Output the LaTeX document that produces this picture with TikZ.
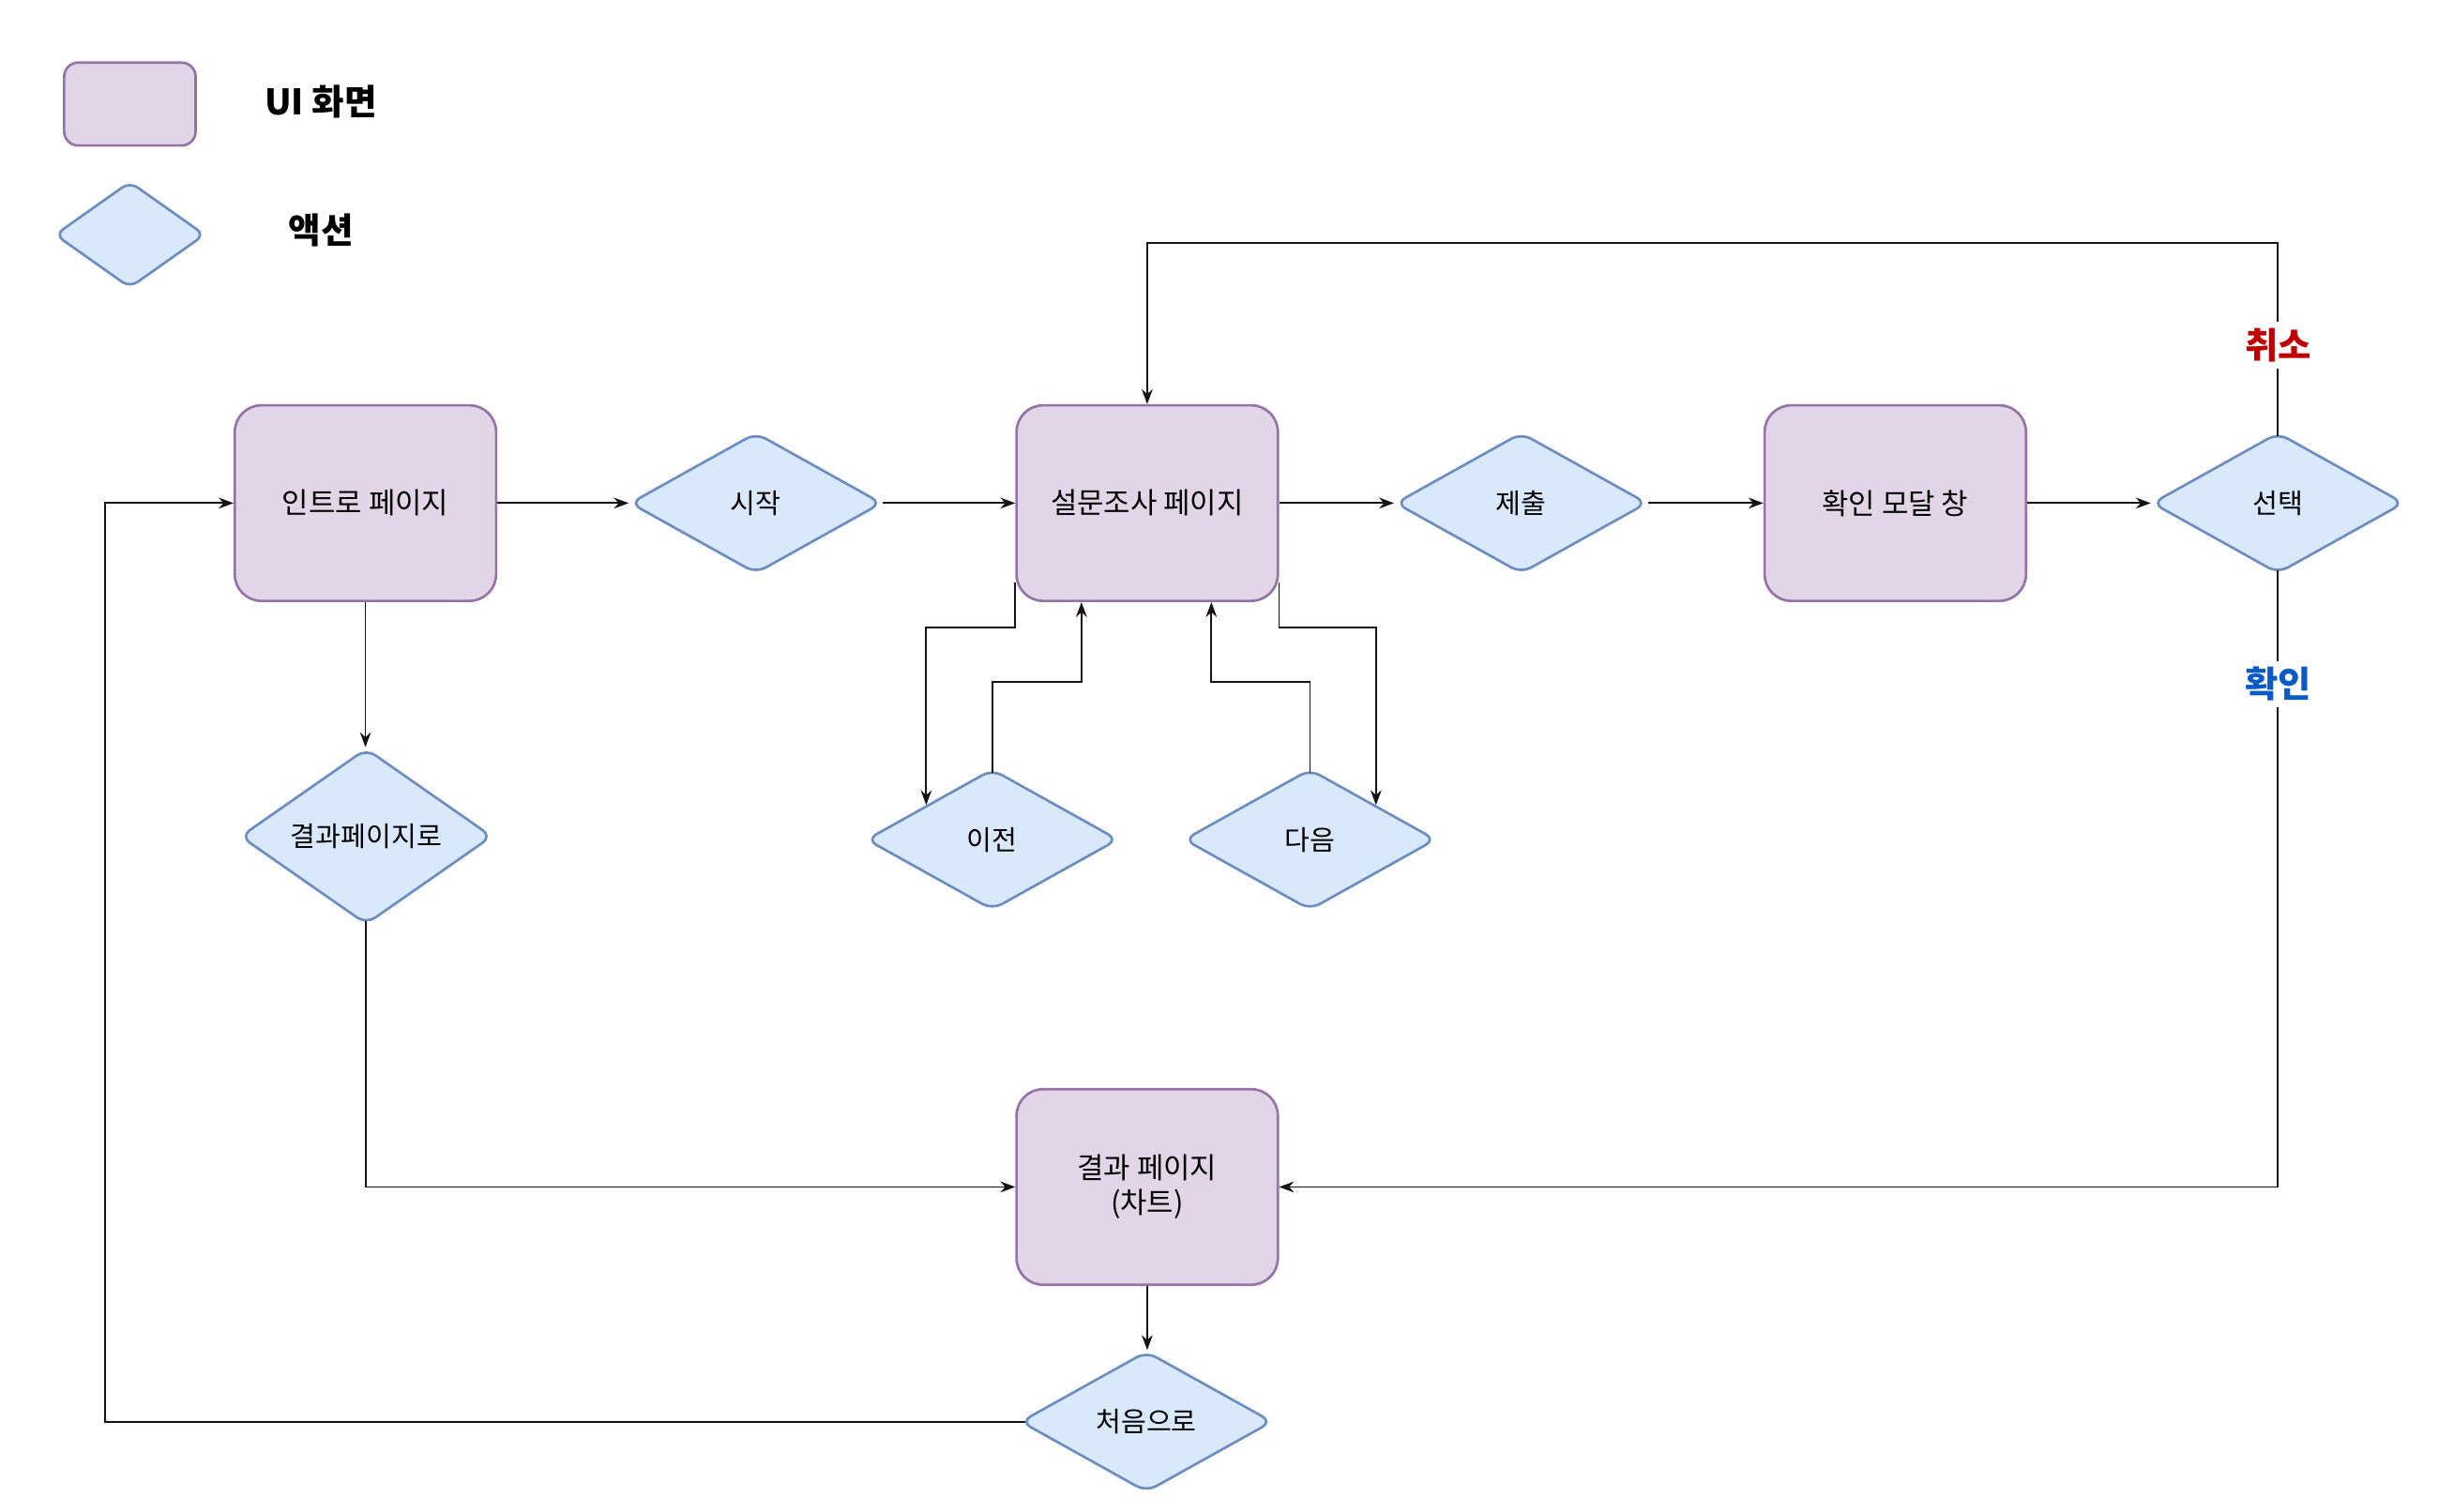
\documentclass[tikz,border=0pt]{standalone}
\usepackage{fontspec}
\setmainfont{Noto Sans CJK KR}
\usetikzlibrary{shapes.geometric,arrows.meta,calc}
\definecolor{pfill}{HTML}{E1D5E7}
\definecolor{pdraw}{HTML}{9673A6}
\definecolor{bfill}{HTML}{DAE8FC}
\definecolor{bdraw}{HTML}{6C8EBF}
\definecolor{cancelred}{HTML}{C00000}
\definecolor{okblue}{HTML}{0A5AC8}
\definecolor{linegray}{HTML}{141414}
\begin{document}
\begin{tikzpicture}[x=1pt,y=-1pt,
  screen/.style={draw=pdraw, fill=pfill, line width=1.6pt, rounded corners=17pt,
    minimum width=167pt, minimum height=125pt, inner sep=0pt,
    font=\fontsize{18.5}{22}\selectfont, align=center},
  action/.style={diamond, draw=bdraw, fill=bfill, line width=1.6pt, rounded corners=7pt,
    minimum width=161pt, minimum height=90pt, inner sep=0pt,
    font=\fontsize{17.5}{20}\selectfont},
  conn/.style={draw=linegray, line width=1.1pt, -{Stealth[length=9.5pt,width=7pt]}},
  lbl/.style={fill=white, font=\bfseries\fontsize{23}{27}\selectfont, inner sep=4pt},
  legtxt/.style={font=\bfseries\fontsize{22.5}{26}\selectfont, inner sep=0pt}
]
\useasboundingbox (0,0) rectangle (1568,966);
% legend
\node[screen, minimum width=84pt, minimum height=53pt, rounded corners=9pt] (legS) at (83,66.5) {};
\node[action, minimum width=96pt, minimum height=68pt, rounded corners=6pt] (legA) at (83,150) {};
\node[legtxt] (legSt) at (205,65) {UI 화면};
\node[legtxt] (legAt) at (205,147) {액션};
% main nodes
\node[screen] (intro) at (233.5,321.5) {인트로 페이지};
\node[action] (start) at (483,321.5) {시작};
\node[screen] (survey) at (733,321.5) {설문조사 페이지};
\node[action] (submit) at (972,321.5) {제출};
\node[screen] (modal) at (1211,321.5) {확인 모달 창};
\node[action] (choice) at (1455.5,321.5) {선택};
\node[action] (toresult) at (234,534.5) {결과페이지로};
\node[action] (prev) at (634,536.5) {이전};
\node[action] (next) at (837,536.5) {다음};
\node[screen] (result) at (733,758.5) {결과 페이지\\(차트)};
\node[action] (restart) at (732.5,908.5) {처음으로};
% helper coordinates
\coordinate (leftrail) at (67,0);
\coordinate (sLL) at ($(survey.south west)+(0,-12.5)$);
\coordinate (sLR) at ($(survey.south east)+(0,-12.5)$);
\coordinate (chN) at ($(choice.north)+(0,3)$);
\coordinate (chS) at ($(choice.south)+(0,-3)$);
\coordinate (trS) at ($(toresult.south)+(0,-3)$);
\coordinate (rsW) at ($(restart.west)+(4,0)$);
\coordinate (pvN) at ($(prev.north)+(0,3)$);
\coordinate (nxN) at ($(next.north)+(0,3)$);
% connectors
\draw[conn] (intro.east) -- (start.west);
\draw[conn] (start.east) -- (survey.west);
\draw[conn] (survey.east) -- (submit.west);
\draw[conn] (submit.east) -- (modal.west);
\draw[conn] (modal.east) -- (choice.west);
\draw[conn] (chN) -- node[lbl, text=cancelred, pos=0.47] {취소} (chN |- 0,155) -| (survey.north);
\draw[conn] (chS) -- node[lbl, text=okblue, pos=0.185] {확인} (chS |- result.east) -- (result.east);
\draw[conn] (intro.south) -- (intro.south |- toresult.north);
\draw[conn] (trS) |- (result.west);
\draw[conn] (result.south) -- (result.south |- restart.north);
\draw[conn] (rsW) -- (rsW -| leftrail) |- (intro.west);
\draw[conn] (sLL) -- ++(0,28.5) -| ($(prev.north)!0.519!(prev.west)$);
\draw[conn] (sLR) -- ++(0,28.5) -| ($(next.north)!0.519!(next.east)$);
\draw[conn] (pvN) -- ++(0,-58) -| ($(survey.south)+(-42,0)$);
\draw[conn] (nxN) -- ++(0,-58) -| ($(survey.south)+(41,0)$);
\end{tikzpicture}
\end{document}
